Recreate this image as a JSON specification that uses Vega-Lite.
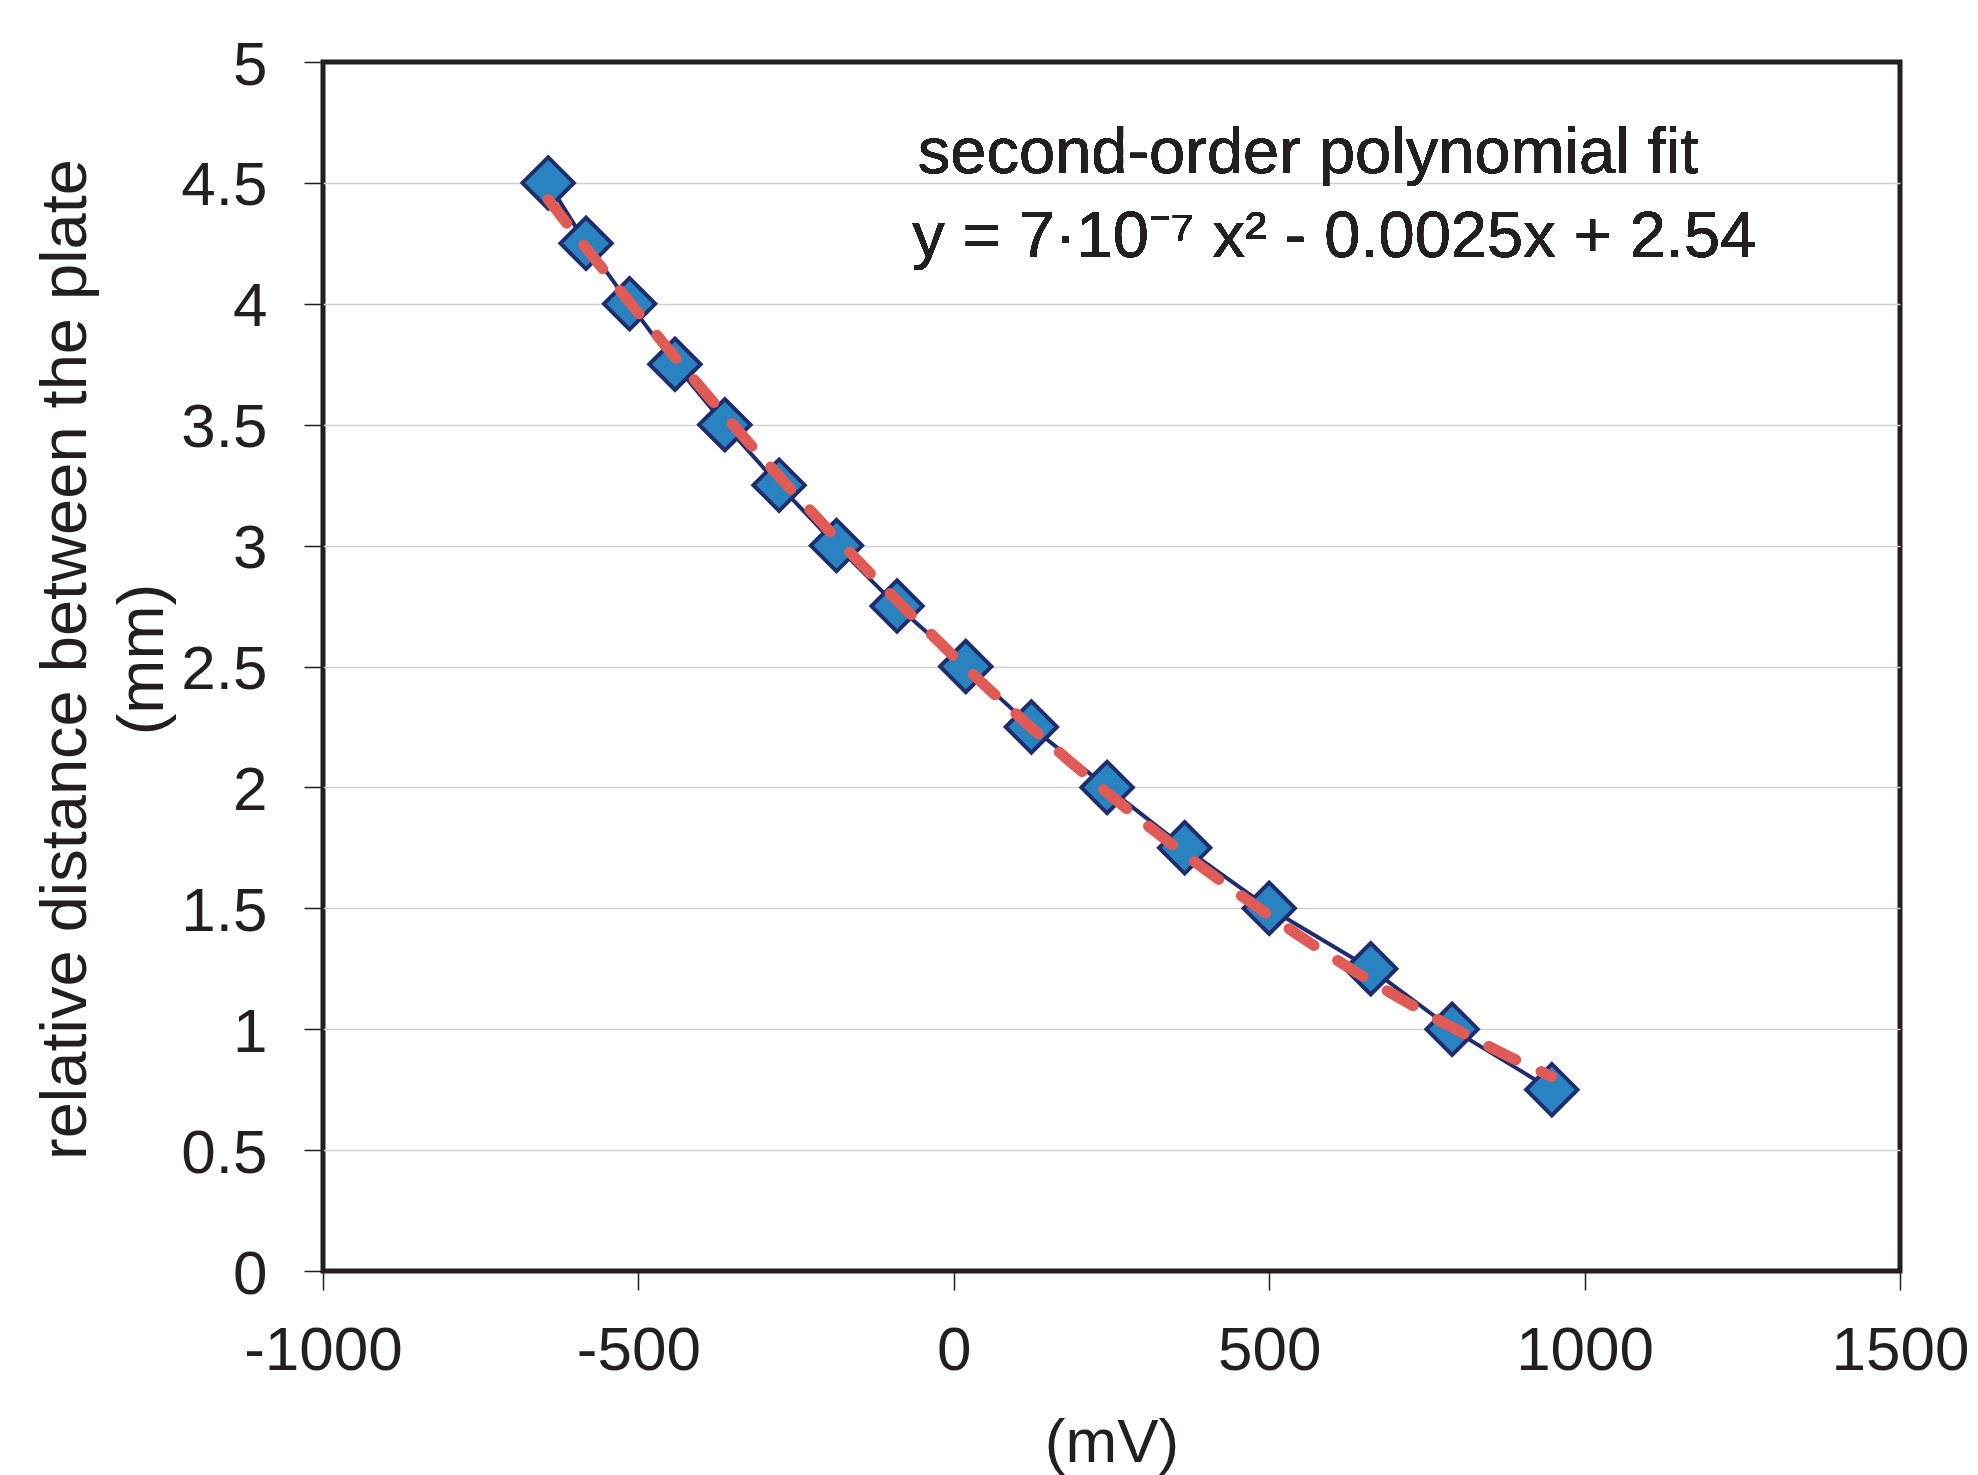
{
  "$schema": "https://vega.github.io/schema/vega-lite/v6.json",
  "width": 1577,
  "height": 1209,
  "autosize": {"type": "none"},
  "padding": {"left": 323, "top": 62, "right": 78, "bottom": 204},
  "background": "white",
  "config": {
    "view": {"stroke": "#231f20", "strokeWidth": 5},
    "font": "Liberation Sans"
  },
  "data": {
    "values": [
      {"x": -643, "y": 4.5},
      {"x": -583, "y": 4.25},
      {"x": -514, "y": 4.0},
      {"x": -442, "y": 3.75},
      {"x": -363, "y": 3.5},
      {"x": -277, "y": 3.25},
      {"x": -186, "y": 3.0},
      {"x": -90, "y": 2.75},
      {"x": 19, "y": 2.5},
      {"x": 123, "y": 2.25},
      {"x": 243, "y": 2.0},
      {"x": 366, "y": 1.75},
      {"x": 500, "y": 1.5},
      {"x": 661, "y": 1.25},
      {"x": 790, "y": 1.0},
      {"x": 948, "y": 0.75}
    ]
  },
  "layer": [
    {
      "mark": {"type": "line", "color": "#1f2d6e", "strokeWidth": 4},
      "encoding": {
        "x": {
          "field": "x",
          "type": "quantitative",
          "scale": {"domain": [-1000, 1500], "nice": false, "zero": false},
          "axis": {
            "values": [-1000, -500, 0, 500, 1000, 1500],
            "labelExpr": "'' + datum.value",
            "title": "(mV)",
            "titleFontSize": 62,
            "titleFontWeight": "normal",
            "titleColor": "#231f20",
            "titleY": 190,
            "titleBaseline": "alphabetic",
            "labelFontSize": 62,
            "labelColor": "#231f20",
            "labelPadding": 30,
            "labelFlush": false,
            "labelOverlap": false,
            "tickSize": 19,
            "tickColor": "#231f20",
            "tickWidth": 1.5,
            "domain": false,
            "grid": false
          }
        },
        "y": {
          "field": "y",
          "type": "quantitative",
          "scale": {"domain": [0, 5], "nice": false, "zero": false},
          "axis": {
            "values": [0, 0.5, 1, 1.5, 2, 2.5, 3, 3.5, 4, 4.5, 5],
            "format": "~g",
            "title": ["relative distance between the plate", "(mm)"],
            "titleFontSize": 65,
            "titleFontWeight": "normal",
            "titleColor": "#231f20",
            "titleLineHeight": 77,
            "titleAngle": -90,
            "titleX": -238,
            "titleY": 597,
            "titleAlign": "center",
            "titleBaseline": "alphabetic",
            "labelFontSize": 62,
            "labelColor": "#231f20",
            "labelPadding": 37,
            "labelOffset": 3,
            "labelFlush": false,
            "labelOverlap": false,
            "tickSize": 19,
            "tickColor": "#231f20",
            "tickWidth": 1.5,
            "domain": false,
            "grid": true,
            "gridColor": "#d0d0d0",
            "gridWidth": 1.5,
            "gridOpacity": {"condition": {"test": "datum.value === 0 || datum.value === 5", "value": 0}, "value": 1}
          }
        }
      }
    },
    {
      "mark": {"type": "point", "shape": "diamond", "filled": true, "fill": "#2983c1", "stroke": "#1f2d6e", "strokeWidth": 4, "size": 2640, "opacity": 1},
      "encoding": {
        "x": {"field": "x", "type": "quantitative"},
        "y": {"field": "y", "type": "quantitative"}
      }
    },
    {
      "transform": [{"regression": "y", "on": "x", "method": "poly", "order": 2}],
      "mark": {"type": "line", "color": "#e05a56", "strokeWidth": 11, "strokeDash": [30, 28], "strokeCap": "round"},
      "encoding": {
        "x": {"field": "x", "type": "quantitative"},
        "y": {"field": "y", "type": "quantitative"}
      }
    },
    {
      "mark": {"type": "text", "text": "second-order polynomial fit", "align": "left", "baseline": "alphabetic", "fontSize": 65, "color": "#231f20"},
      "encoding": {
        "x": {"datum": -57},
        "y": {"datum": 4.541}
      }
    },
    {
      "mark": {"type": "text", "text": "y = 7·10⁻⁷ x² - 0.0025x + 2.54", "align": "left", "baseline": "alphabetic", "fontSize": 65, "color": "#231f20"},
      "encoding": {
        "x": {"datum": -66},
        "y": {"datum": 4.194}
      }
    }
  ]
}
